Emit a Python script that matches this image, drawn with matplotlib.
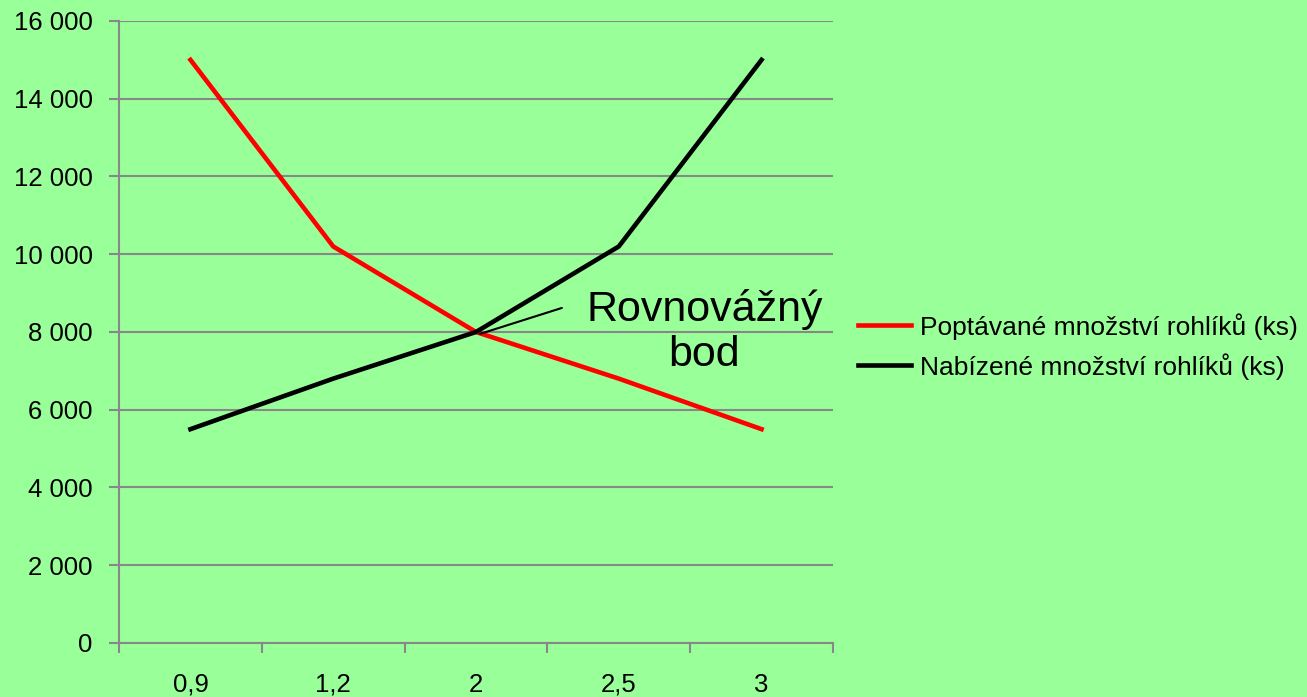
import matplotlib.pyplot as plt
import numpy as np

plt.rcParams['font.family'] = ['Liberation Sans', 'DejaVu Sans']

# Data
ceny = ['0,9', '1,2', '2', '2,5', '3']
poptavka = [15000, 10200, 8000, 6800, 5500]
nabidka = [5500, 6800, 8000, 10200, 15000]
yticks = [0, 2000, 4000, 6000, 8000, 10000, 12000, 14000, 16000]

bg = '#99ff99'
grey = '#888888'

fig = plt.figure(figsize=(13.07, 6.97), dpi=100, facecolor=bg)
ax = fig.add_axes([0.0911, 0.0775, 0.5462, 0.8924], facecolor=bg)

x = np.arange(len(ceny)) + 0.5
ax.plot(x, poptavka, color='#ff0000', lw=3.3, label='Poptávané množství rohlíků (ks)')
ax.plot(x, nabidka, color='black', lw=3.3, label='Nabízené množství rohlíků (ks)')

ax.set_xlim(0, len(ceny))
ax.set_ylim(0, 16000)

# category axis: ticks between categories, labels at centres
ax.set_xticks(np.arange(len(ceny) + 1))
ax.set_xticklabels([])
ax.set_xticks(x, minor=True)
ax.set_xticklabels(ceny, minor=True, fontsize=18.5, va='baseline')
ax.tick_params(axis='x', which='major', length=7, width=1.5, color=grey, direction='out')
ax.tick_params(axis='x', which='minor', length=0, pad=35)

ax.set_yticks(yticks)
ax.set_yticklabels([f'{v:,}'.replace(',', ' ') for v in yticks], fontsize=18.5)
ax.tick_params(axis='y', length=7, width=1.5, color=grey, pad=12)

ax.grid(axis='y', color=grey, lw=1.5)
ax.set_axisbelow(True)
for s in ['top', 'right']:
    ax.spines[s].set_visible(False)
for s in ['left', 'bottom']:
    ax.spines[s].set_color(grey)
    ax.spines[s].set_linewidth(1.5)

# equilibrium annotation
ax.annotate('', xy=(x[2] + 0.01, 7930), xytext=(3.12, 8640),
            arrowprops=dict(arrowstyle='-', color='black', lw=1.5))
ax.text(4.10, 8000, 'Rovnovážný\nbod', fontsize=31, ha='center', va='center',
        linespacing=1.15)

ax.legend(loc='center left', bbox_to_anchor=(1.035, 0.477), frameon=False,
          fontsize=19, handlelength=2.0, handletextpad=0.35, labelspacing=0.5,
          borderpad=0, borderaxespad=0)

fig.savefig('out.png', dpi=100, facecolor=bg)
